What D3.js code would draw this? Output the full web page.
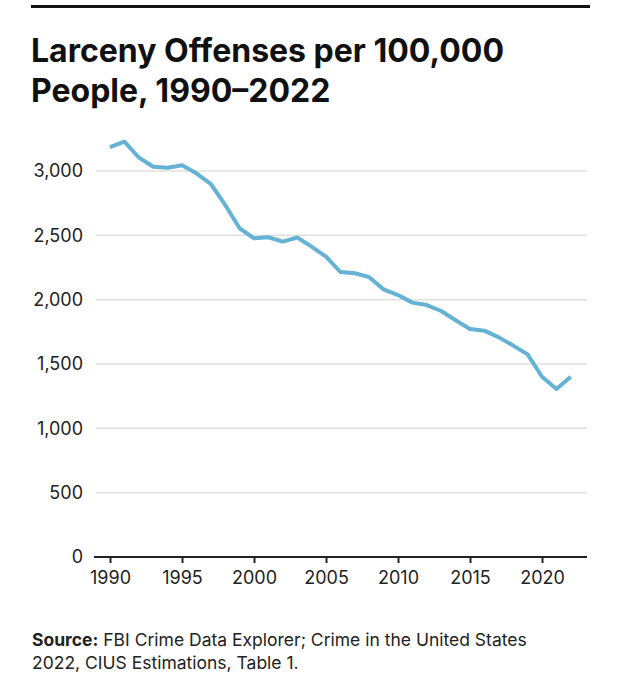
<!DOCTYPE html>
<html>
<head>
<meta charset="utf-8">
<script src="https://cdn.jsdelivr.net/npm/d3@7/dist/d3.min.js"></script>
<style>
  html, body { margin: 0; padding: 0; background: #fff; }
  svg { display: block; }
</style>
</head>
<body>
<svg id="chart" width="621" height="680"></svg>
<script>
const years = d3.range(1990, 2023);
const larceny = [3185, 3228, 3105, 3033, 3026, 3044, 2982, 2899, 2736, 2555,
                 2477, 2485, 2451, 2483, 2412, 2334, 2215, 2205, 2175, 2080,
                 2036, 1977, 1958, 1912, 1840, 1772, 1759, 1707, 1643, 1575,
                 1401, 1306, 1401];
const yTicks = [0, 500, 1000, 1500, 2000, 2500, 3000];
const xTicks = [1990, 1995, 2000, 2005, 2010, 2015, 2020];
const titleLines = ["Larceny Offenses per 100,000", "People, 1990\u20132022"];
const sourceLabel = "Source:";
const sourceLines = [" FBI Crime Data Explorer; Crime in the United States", "2022, CIUS Estimations, Table 1."];

const data = years.map((y, i) => ({ year: y, value: larceny[i] }));

const svg = d3.select("#chart");
const font = "Inter, Roboto, 'Liberation Sans', sans-serif";

// top rule
svg.append("line")
  .attr("x1", 31).attr("x2", 590).attr("y1", 6.5).attr("y2", 6.5)
  .attr("stroke", "#111").attr("stroke-width", 3);

// title
svg.append("g").selectAll("text").data(titleLines).join("text")
  .attr("x", 31).attr("y", (d, i) => 62 + i * 40)
  .attr("font-family", font).attr("font-weight", 700)
  .attr("font-size", 32).attr("fill", "#111")
  .text(d => d);

const x = d3.scaleLinear().domain([1990, 2020]).range([110, 542]);
const y = d3.scaleLinear().domain([0, 3000]).range([557, 171]);
const plotLeft = 95, plotRight = 587;

// gridlines
svg.append("g").selectAll("line").data(yTicks.filter(t => t > 0)).join("line")
  .attr("x1", plotLeft + 1).attr("x2", plotRight)
  .attr("y1", d => y(d)).attr("y2", d => y(d))
  .attr("stroke", "#e0e0e0").attr("stroke-width", 1.5);

// y axis labels
const yAxis = svg.append("g")
  .attr("transform", `translate(${plotLeft},0)`)
  .call(d3.axisLeft(y).tickValues(yTicks).tickSize(0).tickPadding(12)
    .tickFormat(d3.format(",")));
yAxis.select(".domain").remove();
yAxis.selectAll("text")
  .attr("font-family", font).attr("font-size", 18).attr("fill", "#222");

// x axis
const xAxis = svg.append("g")
  .attr("transform", `translate(0,${y(0)})`)
  .call(d3.axisBottom(x).tickValues(xTicks).tickSize(6).tickPadding(8)
    .tickFormat(d3.format("d")));
xAxis.select(".domain").remove();
xAxis.append("line")
  .attr("x1", plotLeft - 1).attr("x2", plotRight).attr("y1", 0).attr("y2", 0)
  .attr("stroke", "#222").attr("stroke-width", 2);
xAxis.selectAll(".tick line").attr("stroke", "#222").attr("stroke-width", 2);
xAxis.selectAll("text")
  .attr("font-family", font).attr("font-size", 18).attr("fill", "#222");

// line
const line = d3.line().x(d => x(d.year)).y(d => y(d.value));
svg.append("path")
  .datum(data)
  .attr("d", line)
  .attr("fill", "none")
  .attr("stroke", "#66b2d5")
  .attr("stroke-width", 4)
  .attr("stroke-linejoin", "round");

// source
const src = svg.append("g").attr("font-family", font).attr("font-size", 17.5).attr("fill", "#222");
const t1 = src.append("text").attr("x", 32).attr("y", 646);
t1.append("tspan").attr("font-weight", 700).text(sourceLabel);
t1.append("tspan").text(sourceLines[0]);
src.append("text").attr("x", 32).attr("y", 669).text(sourceLines[1]);
</script>
</body>
</html>
